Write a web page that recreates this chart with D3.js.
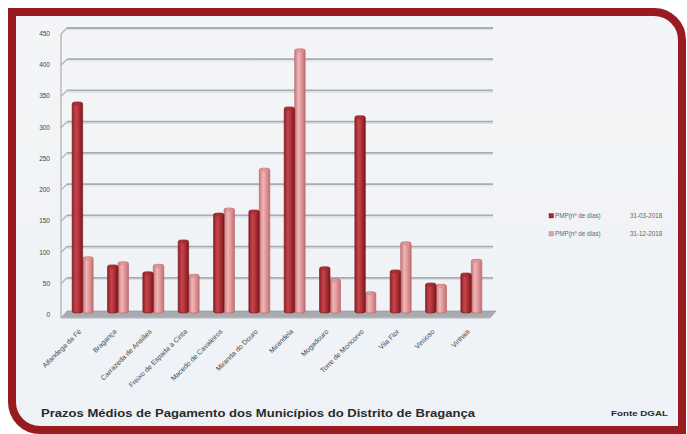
<!DOCTYPE html>
<html><head><meta charset="utf-8">
<script src="https://cdn.jsdelivr.net/npm/d3@7"></script>
<style>html,body{margin:0;padding:0;background:#fff}svg{display:block}</style>
</head><body>
<svg id="c" width="687" height="434"></svg>
<script>
const categories = ["Alfandega da Fé","Bragança","Carrazeda de Ansiães","Freixo de Espada à Cinta","Macedo de Cavaleiros","Miranda do Douro","Mirandela","Mogadouro","Torre de Moncorvo","Vila Flor","Vimioso","Vinhais"];
const seriesNames = ["PMP(nº de dias)","PMP(nº de dias)"];
const seriesDates = ["31-03-2018","31-12-2018"];
const pmpMar = [338,77,66,117,160,165,330,74,316,69,48,64];
const pmpDec = [90,82,78,62,168,232,423,55,34,114,46,86];
const yTicks = [0,50,100,150,200,250,300,350,400,450];
const titleText = "Prazos Médios de Pagamento dos Municípios do Distrito de Bragança";
const sourceText = "Fonte DGAL";

const svg = d3.select("#c");
const defs = svg.append("defs");
function grad(id, stops){
  const g = defs.append("linearGradient").attr("id",id).attr("x1","0").attr("x2","1").attr("y1","0").attr("y2","0");
  stops.forEach(s=>g.append("stop").attr("offset",s[0]).attr("stop-color",s[1]));
}
grad("gDark",[[0,"#8e1f25"],[0.35,"#c4454a"],[0.6,"#b3343a"],[1,"#7d171c"]]);
grad("gLight",[[0,"#c97477"],[0.35,"#efb6b7"],[0.6,"#e39c9e"],[1,"#c36d70"]]);
const bg = defs.append("linearGradient").attr("id","bgG").attr("x1","0").attr("x2","0").attr("y1","0").attr("y2","1");
bg.append("stop").attr("offset",0).attr("stop-color","#f4f5f7");
bg.append("stop").attr("offset",1).attr("stop-color","#eef2f6");

// frame
const L=12,T=12,R=682,B=430,r=28;
const framePath = `M${L},${T} H${R-r} A${r},${r} 0 0 1 ${R},${T+r} V${B} H${L+r} A${r},${r} 0 0 1 ${L},${B-r} Z`;
svg.append("path").attr("d",framePath).attr("fill","url(#bgG)").attr("stroke","#981b1f").attr("stroke-width",8);

const x = d3.scaleBand().domain(categories).range([65,489]);
const y = d3.scaleLinear().domain([0,450]).range([313,32]);
const dx=6, dy=6; // 3D depth offset

// axis line
svg.append("line").attr("x1",61).attr("x2",61).attr("y1",y(450)+2).attr("y2",y(0)+5).attr("stroke","#b3b6ba").attr("stroke-width",1.4);

// gridlines (back wall)
const grid = svg.append("g");
yTicks.forEach(v=>{
  if(v===0) return;
  const yy=y(v);
  grid.append("line").attr("x1",61).attr("y1",yy+2).attr("x2",61+dx).attr("y2",yy+2-dy).attr("stroke","#b0b3b8").attr("stroke-width",1.3);
  grid.append("line").attr("x1",61+dx).attr("y1",yy+2-dy).attr("x2",493).attr("y2",yy+2-dy).attr("stroke","#a9acb1").attr("stroke-width",1.8);
  grid.append("line").attr("x1",61+dx).attr("y1",yy+3.8-dy).attr("x2",493).attr("y2",yy+3.8-dy).attr("stroke","#dadde1").attr("stroke-width",1);
});
// floor
svg.append("polygon").attr("points",`61,${y(0)+5} ${61+dx},${y(0)-2} 496,${y(0)-2} 490,${y(0)+5}`).attr("fill","#a7abb0").attr("stroke","#8e9297").attr("stroke-width",0.6);
svg.append("line").attr("x1",61).attr("x2",490).attr("y1",y(0)+5).attr("y2",y(0)+5).attr("stroke","#c9ccd0");

// y labels
svg.append("g").selectAll("text").data(yTicks).join("text")
  .attr("x",50).attr("y",d=>y(d)+4).attr("text-anchor","end")
  .attr("font-family","Liberation Sans, Arial, sans-serif").attr("font-size",6.5).attr("fill","#444")
  .text(d=>d);

// bars
const bw = 10.5;
const bars = svg.append("g");
categories.forEach((c,i)=>{
  const cx = x(c)+x.bandwidth()/2;
  const vals=[pmpMar[i],pmpDec[i]];
  [1,0].forEach(k=>{
    const v=vals[k];
    const x0 = k===0 ? cx-bw : cx;
    const top = y(v);
    bars.append("rect").attr("x",x0).attr("y",top).attr("width",bw).attr("height",y(0)-top)
      .attr("rx",3).attr("ry",2)
      .attr("fill",k===0?"url(#gDark)":"url(#gLight)")
      .attr("stroke",k===0?"#7a171c":"#b86468").attr("stroke-width",0.6);
    bars.append("ellipse").attr("cx",x0+bw/2).attr("cy",top+2).attr("rx",bw/2-0.8).attr("ry",1.6)
      .attr("fill",k===0?"#a62a30":"#dc9092").attr("opacity",0.8);
  });
});

// x labels
svg.append("g").selectAll("text").data(categories).join("text")
  .attr("transform",d=>`translate(${x(d)+x.bandwidth()/2-1},${y(0)+19}) rotate(-45)`)
  .attr("text-anchor","end")
  .attr("font-family","Liberation Sans, Arial, sans-serif").attr("font-size",7).attr("fill","#444")
  .text(d=>d);

// legend
const lg = svg.append("g").attr("font-family","Liberation Sans, Arial, sans-serif").attr("font-size",6.3).attr("fill","#666");
[0,1].forEach(k=>{
  const ly = 218 + k*18;
  lg.append("rect").attr("x",549).attr("y",ly-4.5).attr("width",4.5).attr("height",4.5)
    .attr("fill",k===0?"#a8262c":"#e7a5a7").attr("stroke",k===0?"#7a171c":"#c27073").attr("stroke-width",0.4);
  lg.append("text").attr("x",555).attr("y",ly).text(seriesNames[k]);
  lg.append("text").attr("x",630).attr("y",ly).text(seriesDates[k]);
});

// title & source
svg.append("text").attr("x",41).attr("y",417).attr("font-family","Liberation Sans, Arial, sans-serif")
  .attr("font-weight","bold").attr("font-size",11.5).attr("fill","#2a2a2a")
  .attr("textLength",434).attr("lengthAdjust","spacingAndGlyphs").text(titleText);
svg.append("text").attr("x",611).attr("y",416).attr("font-family","Liberation Sans, Arial, sans-serif")
  .attr("font-weight","bold").attr("font-size",8).attr("fill","#2a2a2a")
  .attr("textLength",57).attr("lengthAdjust","spacingAndGlyphs").text(sourceText);
</script>
</body></html>
